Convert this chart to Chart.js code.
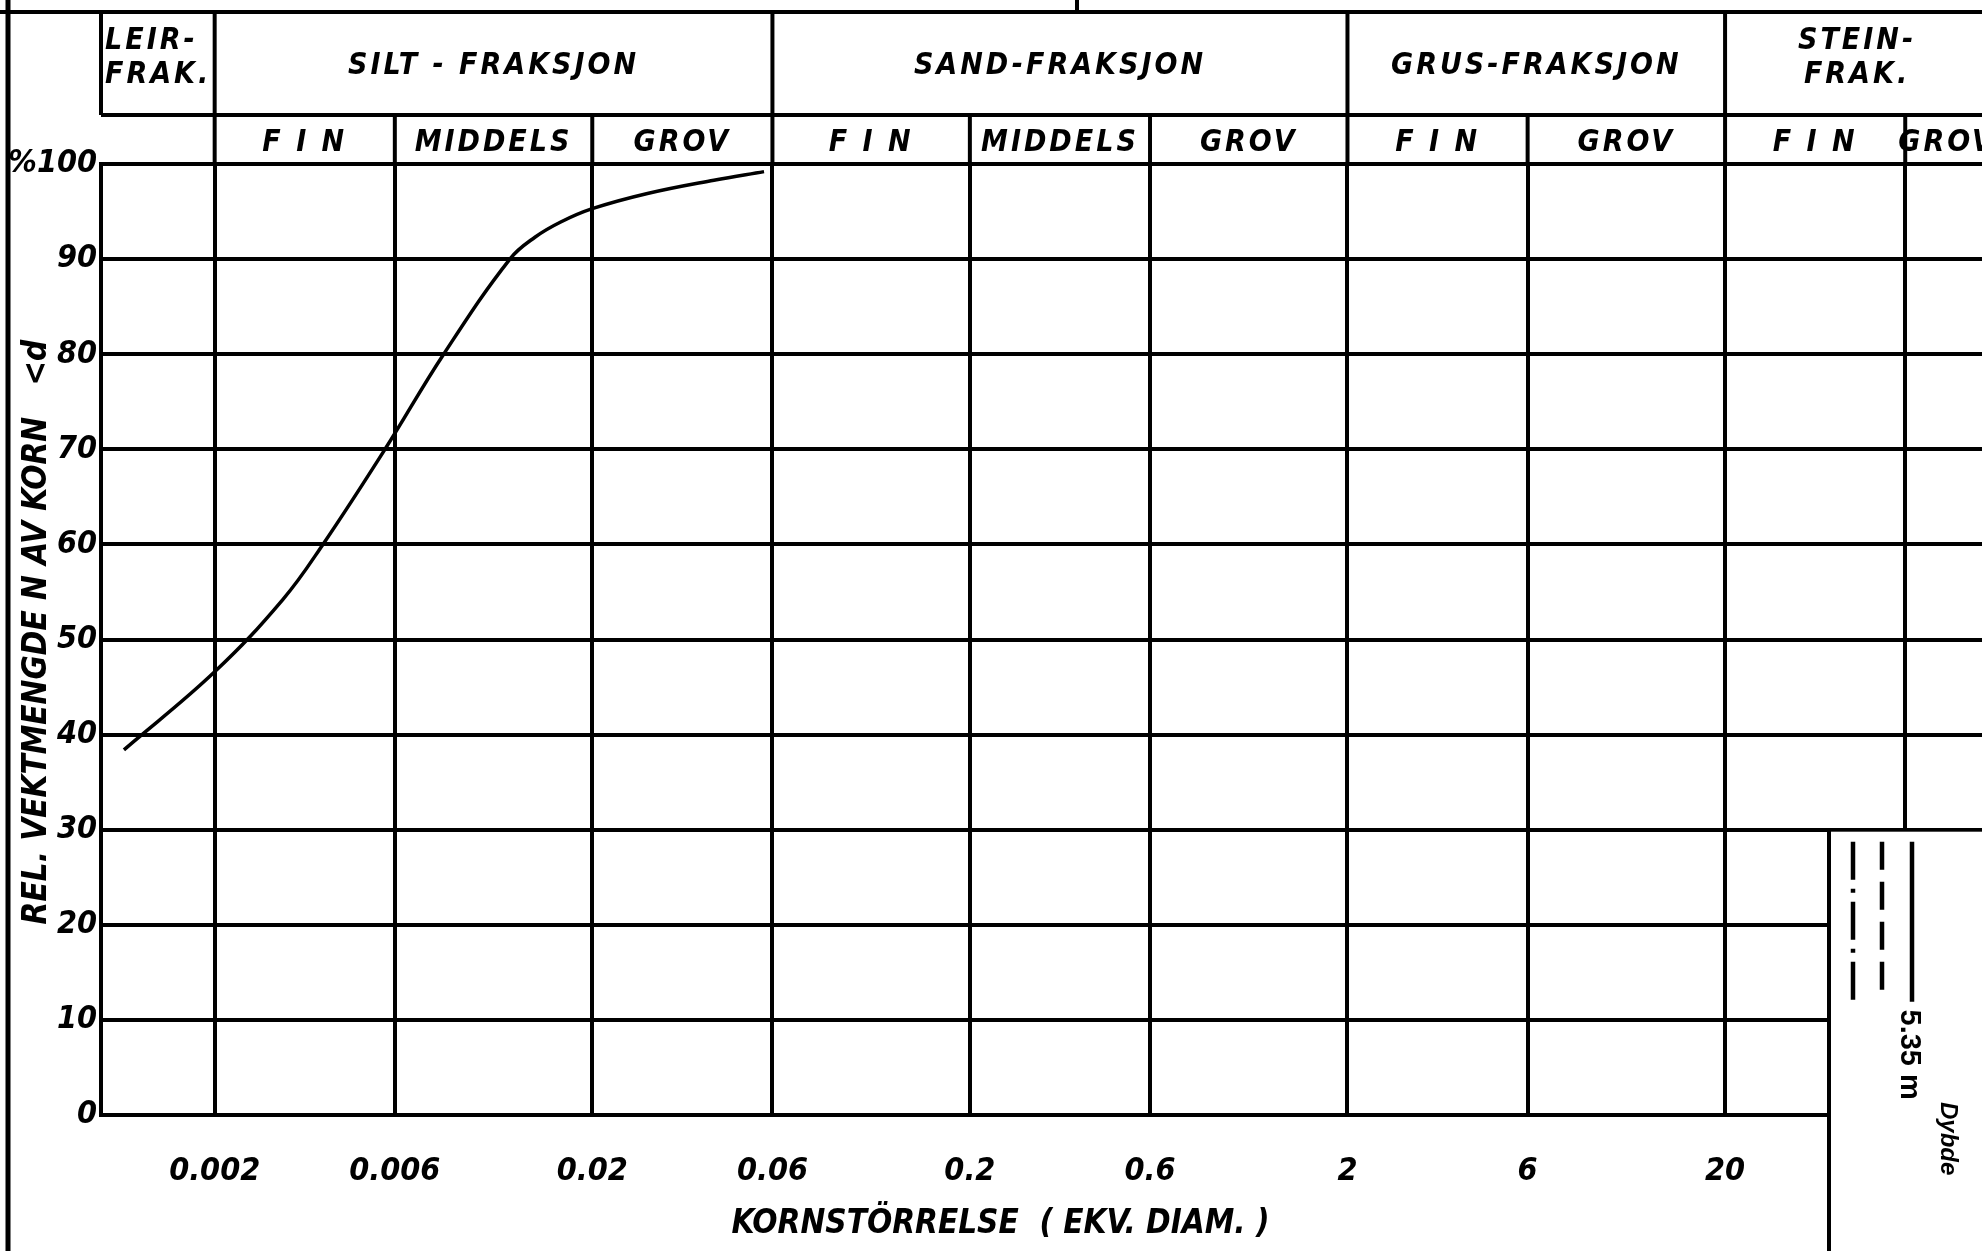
<!DOCTYPE html>
<html>
<head>
<meta charset="utf-8">
<title>Kornfordelingskurve</title>
<script src="https://cdn.jsdelivr.net/npm/chart.js@4.4.1/dist/chart.umd.min.js"></script>
<style>
  html, body { margin: 0; padding: 0; background: #fff; overflow: hidden; }
  canvas { display: block; }
</style>
</head>
<body>
<canvas id="grain" width="1992" height="1251"></canvas>
<script>
// =========================================================
// DATA
// =========================================================
const grainSize = [0.00115, 0.002, 0.00303, 0.00387, 0.00565, 0.00808, 0.0121, 0.0141, 0.0165, 0.02, 0.028, 0.042, 0.057];
const percentFiner = [38.4, 46.6, 54.2, 60.0, 70.0, 80.0, 90.0, 92.3, 93.9, 95.3, 96.9, 98.3, 99.2];

const xTickValues = [0.002, 0.006, 0.02, 0.06, 0.2, 0.6, 2, 6, 20, 60];
const xTickLabels = ["0.002", "0.006", "0.02", "0.06", "0.2", "0.6", "2", "6", "20", ""];

const yTickValues = [0, 10, 20, 30, 40, 50, 60, 70, 80, 90, 100];
const yTickLabels = ["0", "10", "20", "30", "40", "50", "60", "70", "80", "90", "%100"];

const fractionNames = ["LEIR-\nFRAK.", "SILT - FRAKSJON", "SAND-FRAKSJON", "GRUS-FRAKSJON", "STEIN-\nFRAK."];
const fractionBounds = [0.001, 0.002, 0.06, 2, 20, 100];

const subNames = ["FIN", "MIDDELS", "GROV", "FIN", "MIDDELS", "GROV", "FIN", "GROV", "FIN", "GROV"];
const subBounds = [0.002, 0.006, 0.02, 0.06, 0.2, 0.6, 2, 6, 20, 60, 100];

const depthLabel = "5.35 m";


// =========================================================
// STYLE
// =========================================================
const FAMILY = '"Liberation Sans Narrow", "DejaVu Sans Condensed", "Liberation Sans", sans-serif';
const INK = "#000";
const RULE = 4;

function strokeLine(ctx, x1, y1, x2, y2) {
  ctx.beginPath();
  ctx.moveTo(x1, y1);
  ctx.lineTo(x2, y2);
  ctx.stroke();
}


// =========================================================
// SHEET PLUGIN: header table, frame, legend box
// =========================================================
const sheetPlugin = {
  id: "sheet",
  afterDraw(chart) {
    const { ctx, chartArea, scales: { x, y } } = chart;
    const W = chart.width, H = chart.height;
    const topLine = 12, midLine = 115;

    ctx.save();
    ctx.strokeStyle = INK;
    ctx.fillStyle = INK;

    // ---- legend box cut out of the lower right corner ----
    const boxLeft = 1829;
    const boxTop = y.getPixelForValue(30);
    ctx.fillStyle = "#fff";
    ctx.fillRect(boxLeft + 2, boxTop + 2, W, H);
    ctx.fillStyle = INK;
    ctx.lineWidth = RULE;
    strokeLine(ctx, boxLeft, boxTop, boxLeft, H);

    // line style samples
    ctx.lineWidth = 4.5;
    ctx.setLineDash([38, 9, 4, 9]);
    strokeLine(ctx, 1853, boxTop + 12, 1853, boxTop + 172);
    ctx.setLineDash([28, 12]);
    strokeLine(ctx, 1882, boxTop + 12, 1882, boxTop + 172);
    ctx.setLineDash([]);
    strokeLine(ctx, 1912, boxTop + 12, 1912, boxTop + 172);

    ctx.textAlign = "center";
    ctx.textBaseline = "middle";
    ctx.save();
    ctx.translate(1909, boxTop + 225);
    ctx.rotate(Math.PI / 2);
    ctx.font = 'bold 29px "Liberation Sans", "DejaVu Sans", sans-serif';
    ctx.fillText(depthLabel, 0, 0);
    ctx.restore();
    ctx.save();
    ctx.translate(1948, boxTop + 309);
    ctx.rotate(Math.PI / 2);
    ctx.font = 'bold italic 24px "Liberation Sans", "DejaVu Sans", sans-serif';
    ctx.fillText("Dybde", 0, 0);
    ctx.restore();

    // ---- frame ----
    ctx.lineWidth = 5;
    strokeLine(ctx, 8, 0, 8, H);
    ctx.lineWidth = RULE;
    strokeLine(ctx, 0, topLine, W, topLine);
    strokeLine(ctx, 1077, 0, 1077, topLine);

    // ---- header table ----
    const x0 = x.getPixelForValue(fractionBounds[0]);
    strokeLine(ctx, x0, midLine, W, midLine);
    fractionBounds.slice(0, -1).forEach(v => {
      const px = x.getPixelForValue(v);
      strokeLine(ctx, px, topLine, px, midLine);
    });
    subBounds.slice(0, -1).forEach(v => {
      const px = x.getPixelForValue(v);
      strokeLine(ctx, px, midLine, px, chartArea.top);
    });

    ctx.font = "italic bold 30px " + FAMILY;
    ctx.letterSpacing = "3px";

    fractionNames.forEach((name, i) => {
      const left = x.getPixelForValue(fractionBounds[i]);
      const right = x.getPixelForValue(fractionBounds[i + 1]);
      const lines = name.split("\n");
      const lead = 34;
      const yc = lines.length > 1 ? 58 : 66;
      lines.forEach((txt, k) => {
        const ty = yc + (k - (lines.length - 1) / 2) * lead;
        if (i === 0) {
          ctx.textAlign = "left";
          ctx.fillText(txt, left + 4, ty);
        } else {
          ctx.textAlign = "center";
          ctx.fillText(txt, (left + right) / 2, ty);
        }
      });
    });

    ctx.textAlign = "center";
    subNames.forEach((name, i) => {
      const left = x.getPixelForValue(subBounds[i]);
      const right = x.getPixelForValue(subBounds[i + 1]);
      const txt = name === "FIN" ? "F I N" : name;
      ctx.fillText(txt, (left + right) / 2, (midLine + chartArea.top) / 2 + 4);
    });

    ctx.restore();
  }
};


// =========================================================
// CHART
// =========================================================
const tickFont = { family: FAMILY, size: 32, weight: "bold", style: "italic" };
const titleFont = { family: FAMILY, size: 33, weight: "bold", style: "italic" };

new Chart(document.getElementById("grain"), {
  type: "line",
  data: {
    datasets: [{
      label: depthLabel,
      data: grainSize.map((g, i) => ({ x: g, y: percentFiner[i] })),
      borderColor: INK,
      borderWidth: 3.5,
      pointRadius: 0,
      fill: false,
      tension: 0.4
    }]
  },
  options: {
    responsive: false,
    animation: false,
    layout: { padding: { top: 164, right: 3, left: 0, bottom: 0 } },
    plugins: {
      legend: { display: false },
      tooltip: { enabled: false }
    },
    scales: {
      x: {
        type: "logarithmic",
        min: 0.001,
        max: 100,
        afterBuildTicks: s => { s.ticks = xTickValues.map(v => ({ value: v })); },
        afterFit: s => { s.height = 136; },
        grid: { color: INK, lineWidth: RULE, drawTicks: false },
        border: { color: INK, width: RULE },
        ticks: {
          autoSkip: false,
          maxRotation: 0,
          padding: 37,
          color: INK,
          font: tickFont,
          callback: (v, i) => xTickLabels[i]
        },
        title: {
          display: true,
          text: "KORNSTÖRRELSE  ( EKV. DIAM. )\u2003\u2003\u2003",
          color: INK,
          font: titleFont,
          padding: { top: 0, bottom: 7 }
        }
      },
      y: {
        min: 0,
        max: 100,
        afterBuildTicks: s => { s.ticks = yTickValues.map(v => ({ value: v })); },
        afterFit: s => { s.width = 101; },
        grid: { color: INK, lineWidth: RULE, drawTicks: false },
        border: { color: INK, width: RULE },
        ticks: {
          padding: 4,
          color: INK,
          font: tickFont,
          callback: (v, i) => yTickLabels[i]
        },
        title: {
          display: true,
          text: "\u2002REL. VEKTMENGDE N AV KORN   <d",
          color: INK,
          font: titleFont,
          padding: { top: 18, bottom: 0 }
        }
      }
    }
  },
  plugins: [sheetPlugin]
});
</script>
</body>
</html>
